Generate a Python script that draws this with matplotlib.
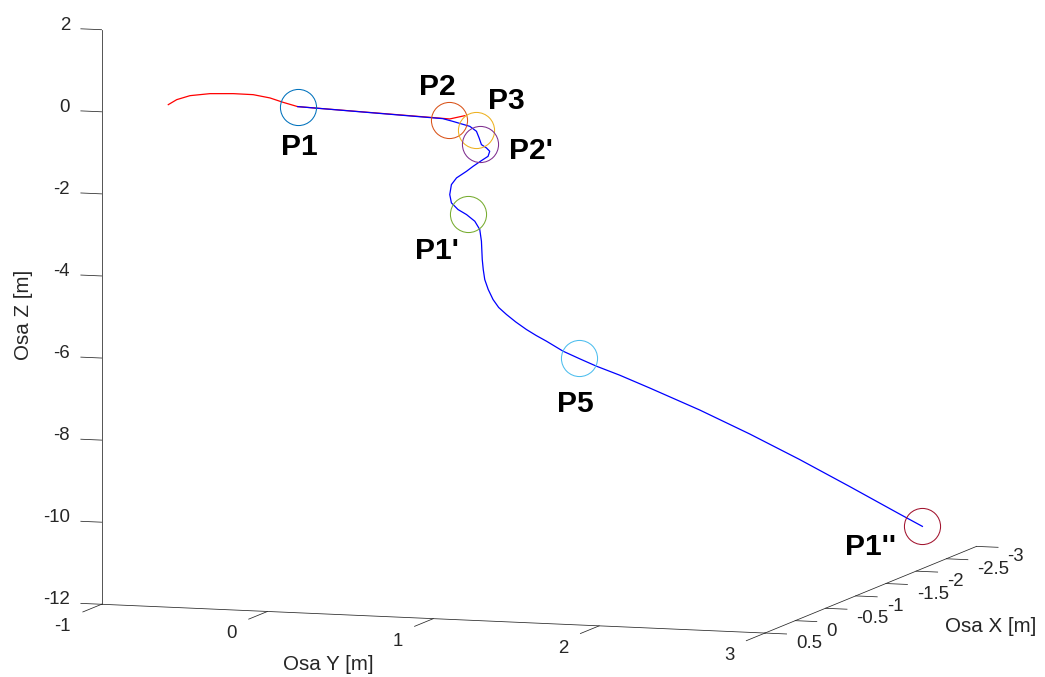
import numpy as np
import matplotlib
matplotlib.use("Agg")
import matplotlib.pyplot as plt

W, H = 1045, 677

# reference path (red)
red_x = [0.0, 0.0, 0.0, 0.0, 0.0, 0.0, 0.0, 0.0, 0.0, 0.0, 0.0]
red_y = [-0.780, -0.729, -0.649, -0.529, -0.388, -0.268, -0.167, -0.087, 0.000, 0.917, 1.008]
red_z = [-0.089, 0.042, 0.153, 0.223, 0.248, 0.244, 0.182, 0.088, 0.000, -0.140, -0.044]

# flown path (blue)
blue_x = [0.0, 0.0, 0.0, 0.0, 0.0, 0.0, 0.0, 0.0, 0.0, 0.0,
          0.0, 0.0, 0.0, 0.0, 0.0, 0.0, 0.0, 0.0, 0.0, 0.0,
          0.0, 0.0, 0.0, 0.0, 0.0, 0.0, 0.0, 0.0, 0.0, 0.0,
          0.0, 0.0, 0.0, 0.0, 0.0, 0.0, 0.0,
          -0.2, -0.5, -0.85, -1.2, -1.6, -2.0, -2.2]
blue_y = [0.000, 0.875, 0.935, 1.038, 1.078, 1.094, 1.108, 1.138, 1.158, 1.148,
          1.108, 1.058, 1.018, 0.958, 0.927, 0.917, 0.927, 0.967, 1.018, 1.068,
          1.098, 1.108, 1.113, 1.119, 1.128, 1.149, 1.178, 1.212, 1.259, 1.315,
          1.379, 1.438, 1.500, 1.600, 1.700, 1.801, 1.941,
          2.049, 2.241, 2.415, 2.588, 2.744, 2.899, 2.965]
blue_z = [0.000, -0.140, -0.195, -0.299, -0.413, -0.571, -0.732, -0.807, -0.886, -1.010,
          -1.122, -1.269, -1.398, -1.569, -1.738, -1.983, -2.183, -2.339, -2.452, -2.606,
          -2.803, -3.086, -3.531, -3.774, -4.016, -4.255, -4.494, -4.682, -4.845, -5.017,
          -5.189, -5.325, -5.453, -5.679, -5.846, -6.009, -6.203,
          -6.617, -7.300, -8.065, -8.867, -9.739, -10.623, -11.036]

# waypoints
names = ["P1", "P2", "P3", "P2'", "P1'", "P5", "P1''"]
pt_x = [0.0, 0.0, 0.0, 0.0, 0.0, 0.0, -2.2]
pt_y = [0.000, 0.913, 1.074, 1.100, 1.027, 1.694, 2.965]
pt_z = [0.000, -0.174, -0.385, -0.728, -2.430, -5.840, -11.036]
pt_colors = ['#0072BD', '#D95319', '#EDB120', '#7E2F8E', '#77AC30', '#4DBEEE', '#A2142F']
# label offsets from the marker, in pixels (right, down)
lab_off = [(2, 37), (-12, -36), (31, -32), (51, 4), (-31, 34), (-3, 43), (-52, 18)]

x_ticks = [0.5, 0, -0.5, -1, -1.5, -2, -2.5, -3]
y_ticks = [-1, 0, 1, 2, 3]
z_ticks = [-12, -10, -8, -6, -4, -2, 0, 2]

plt.rcParams['font.family'] = ['Liberation Sans', 'DejaVu Sans']
axc = '#262626'

fig = plt.figure(figsize=(W / 100, H / 100), dpi=100)
ax = fig.add_axes([0, 0, H / W, 1], projection='3d', proj_type='ortho',
                  computed_zorder=False)
ax.view_init(elev=7.66, azim=18.02)
ax.set_xlim(-3, 0.5)
ax.set_ylim(-1, 3)
ax.set_zlim(-12, 2)
ax.set_box_aspect((684, 698, 580))
ax.set_axis_off()

# axis lines and ticks, MATLAB style
lkw = dict(color=axc, lw=0.55)
ax.plot([0.5, 0.5], [-1, -1], [-12, 2], **lkw)
ax.plot([0.5, 0.5], [-1, 3], [-12, -12], **lkw)
ax.plot([0.5, -3], [3, 3], [-12, -12], **lkw)
for z in z_ticks:
    ax.plot([0.5, 0.5], [-1, -1.125], [z, z], **lkw)
for y in y_ticks:
    ax.plot([0.5, 0.81], [y, y], [-12, -12], **lkw)
for x in x_ticks:
    ax.plot([x, x], [3, 3.13], [-12, -12], **lkw)

ax.plot(red_x, red_y, red_z, color='red', lw=0.9)
ax.plot(blue_x, blue_y, blue_z, color='blue', lw=0.9)
for i in range(len(names)):
    ax.plot([pt_x[i]], [pt_y[i]], [pt_z[i]], 'o', ms=26, mfc='none',
            mec=pt_colors[i], mew=0.75)

# fit the axes box so the plot box lands where the reference has it
corners = [(0.5, -1, -12), (0.5, 3, -12), (0.5, -1, 2), (-3, 3, -12)]
targets = np.array([(101.5, 605), (765, 632.7), (101.5, 30), (976.7, 545.7)])
targets[:, 1] = H - targets[:, 1]


def project(x, y, z):
    v = ax.get_proj() @ np.array([x, y, z, 1.0])
    return v[0] / v[3], v[1] / v[3]


fig.canvas.draw()
pos = ax.get_position()
disp = np.array([ax.transData.transform(project(*c)) for c in corners])
q = (disp - [pos.x0 * W, pos.y0 * H]) / (pos.width * W)
A = np.zeros((8, 3))
b = np.zeros(8)
for i in range(4):
    A[2 * i] = [1, 0, q[i, 0]]
    A[2 * i + 1] = [0, 1, q[i, 1]]
    b[2 * i], b[2 * i + 1] = targets[i]
ox, oy, side = np.linalg.lstsq(A, b, rcond=None)[0]
ax.set_position([ox / W, oy / H, side / W, side / H])


def put(text, x, y, z, dx, dy, **kw):
    ax.annotate(text, project(x, y, z), xytext=(dx * 0.72, -dy * 0.72),
                textcoords='offset points', annotation_clip=False, **kw)


tk = dict(fontsize=13.4, color=axc, va='baseline')
for z in z_ticks:
    put(f"{z:g}", 0.5, -1, z, -31.5, 0, ha='right', **tk)
for y in y_ticks:
    put(f"{y:g}", 0.5, y, -12, -30.5, 27, ha='right', **tk)
for x in x_ticks:
    put(f"{x:g}", x, 3, -12, 31, 15, ha='left', **tk)

lk = dict(fontsize=14.8, color=axc, va='center', ha='center')
put("Osa Z [m]", 0.5, -1, -4, -78, 39.4, rotation=90, **lk)
put("Osa Y [m]", 0.5, 1, -12, -104.5, 45.6, **lk)
put("Osa X [m]", -1, 3, -12, 134.7, 30.7, **lk)

for i in range(len(names)):
    dx, dy = lab_off[i]
    put(names[i], pt_x[i], pt_y[i], pt_z[i], dx, dy + 11, ha='center',
        va='baseline', fontsize=21.6, fontweight='bold', color='black')

fig.savefig("out.png", dpi=100)
